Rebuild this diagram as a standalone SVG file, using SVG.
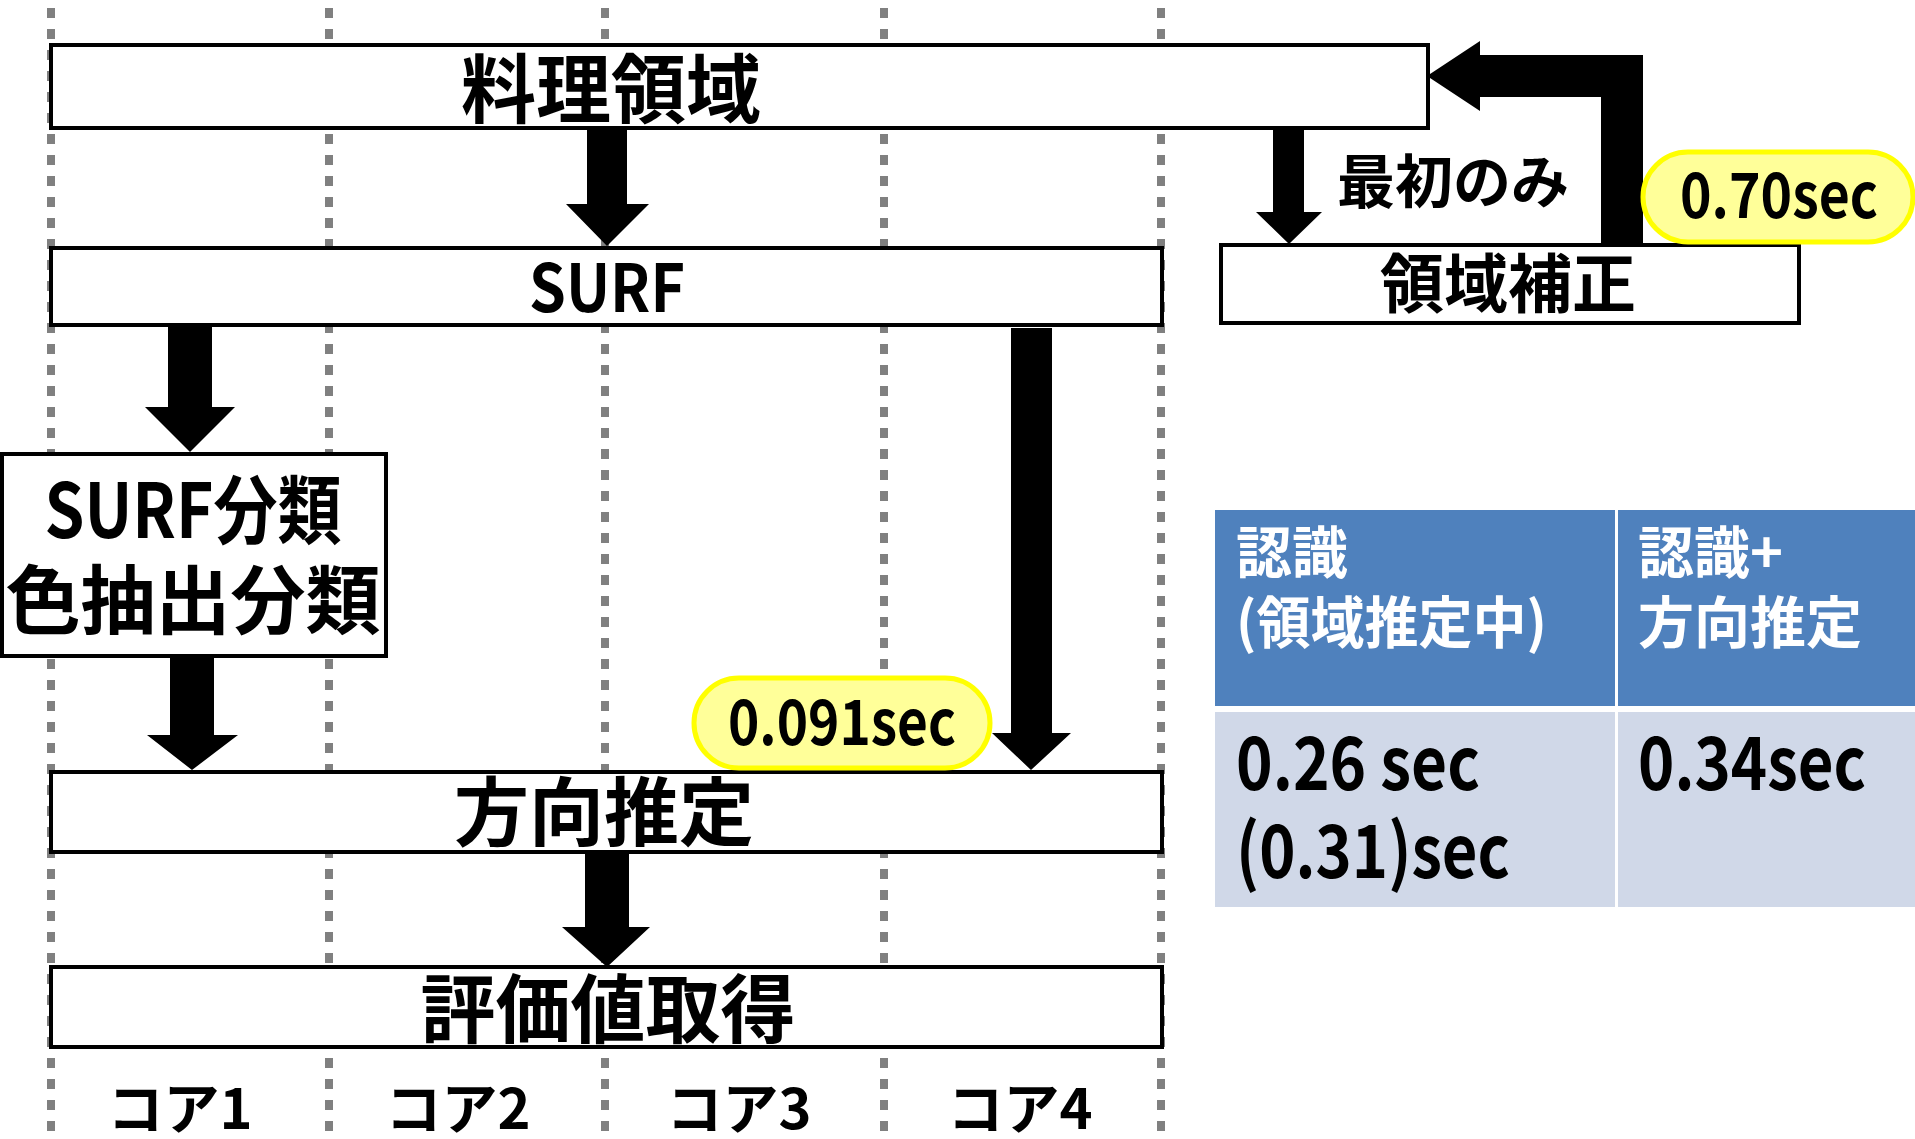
<svg xmlns="http://www.w3.org/2000/svg" width="1915" height="1139" viewBox="0 0 1915 1139">
<defs>
<style>
.lane{stroke:#808080;stroke-width:8;stroke-dasharray:10 11;fill:none}
.box{fill:#fff;stroke:#000;stroke-width:4}
.t{font-family:"Noto Sans CJK JP","Noto Sans",sans-serif;font-weight:bold;fill:#000}
.big{font-size:75px;text-anchor:middle}
.pill{fill:#FFFF99;stroke:#FFFF00;stroke-width:5}
.arr{fill:#000}
.hd{fill:#4F81BD}
.bd{fill:#D0D8E8}
.wt{fill:#fff;font-size:56px}
.bt{font-size:74px}
</style>
</defs>
<rect width="1915" height="1139" fill="#fff"/>
<g id="lanes">
<line class="lane" x1="51" y1="8" x2="51" y2="1139"/>
<line class="lane" x1="329" y1="8" x2="329" y2="1139"/>
<line class="lane" x1="605" y1="8" x2="605" y2="1139"/>
<line class="lane" x1="884" y1="8" x2="884" y2="1139"/>
<line class="lane" x1="1161" y1="8" x2="1161" y2="1139"/>
</g>
<g id="connectors">
<polygon class="arr" points="587,128 627,128 627,204 649,204 607,246 566,204 587,204"/>
<polygon class="arr" points="168,327 212,327 212,407 235,407 190,452 145,407 168,407"/>
<polygon class="arr" points="170,656 214,656 214,735 238,735 192,770 147,735 170,735"/>
<polygon class="arr" points="1011,328 1052,328 1052,733 1071,733 1031,770 992,733 1011,733"/>
<polygon class="arr" points="585,852 629,852 629,927 650,927 607,967 562,927 585,927"/>
<polygon class="arr" points="1273,128 1304,128 1304,212 1322,212 1289,244 1256,212 1273,212"/>
<polygon class="arr" points="1643,55 1643,243 1601,243 1601,97 1480,97 1480,111 1427,76 1480,41 1480,55"/>
</g>
<g id="node-ryouri">
<rect class="box" x="51" y="45" width="1377" height="83"/>
<text class="t big" x="611" y="117">料理領域</text>
</g>
<g id="node-surf">
<rect class="box" x="51" y="248" width="1111" height="77"/>
<text class="t" x="607" y="312" font-size="66" text-anchor="middle" textLength="156" lengthAdjust="spacingAndGlyphs">SURF</text>
</g>
<g id="node-bunrui">
<rect class="box" x="2" y="454" width="384" height="202"/>
<text class="t big" x="193" y="538" textLength="297" lengthAdjust="spacingAndGlyphs">SURF分類</text>
<text class="t big" x="193" y="628">色抽出分類</text>
</g>
<g id="node-houkou">
<rect class="box" x="51" y="772" width="1111" height="80"/>
<text class="t big" x="604" y="840">方向推定</text>
</g>
<g id="node-hyouka">
<rect class="box" x="51" y="967" width="1111" height="80"/>
<text class="t big" x="608" y="1037">評価値取得</text>
</g>
<g id="node-hosei">
<rect class="box" x="1221" y="245" width="578" height="78"/>
<text class="t" x="1508" y="307" font-size="64" text-anchor="middle">領域補正</text>
</g>
<g id="label-saisho">
<text class="t" x="1453" y="203" font-size="58" text-anchor="middle">最初のみ</text>
</g>
<g id="pill-070">
<rect class="pill" x="1643" y="152" width="270" height="90" rx="45"/>
<text class="t" x="1779" y="218" font-size="62" text-anchor="middle" textLength="198" lengthAdjust="spacingAndGlyphs">0.70sec</text>
</g>
<g id="pill-0091">
<rect class="pill" x="694" y="678" width="296" height="90" rx="45"/>
<text class="t" x="842" y="745" font-size="62" text-anchor="middle" textLength="228" lengthAdjust="spacingAndGlyphs">0.091sec</text>
</g>
<g id="cores">
<text class="t" x="180" y="1129" font-size="56" text-anchor="middle">コア1</text>
<text class="t" x="458" y="1129" font-size="56" text-anchor="middle">コア2</text>
<text class="t" x="739" y="1129" font-size="56" text-anchor="middle">コア3</text>
<text class="t" x="1020" y="1129" font-size="56" text-anchor="middle">コア4</text>
</g>
<g id="table">
<rect class="hd" x="1215" y="510" width="400" height="196"/>
<rect class="hd" x="1618" y="510" width="297" height="196"/>
<rect class="bd" x="1215" y="712" width="400" height="195"/>
<rect class="bd" x="1618" y="712" width="297" height="195"/>
<text class="t wt" x="1236" y="573">認識</text>
<text class="t wt" x="1236" y="643" textLength="311" lengthAdjust="spacingAndGlyphs">(領域推定中)</text>
<text class="t wt" x="1638" y="573">認識+</text>
<text class="t wt" x="1638" y="643">方向推定</text>
<text class="t bt" x="1236" y="790" textLength="244" lengthAdjust="spacingAndGlyphs">0.26 sec</text>
<text class="t bt" x="1236" y="878" textLength="274" lengthAdjust="spacingAndGlyphs">(0.31)sec</text>
<text class="t bt" x="1638" y="790" textLength="228" lengthAdjust="spacingAndGlyphs">0.34sec</text>
</g>
</svg>
